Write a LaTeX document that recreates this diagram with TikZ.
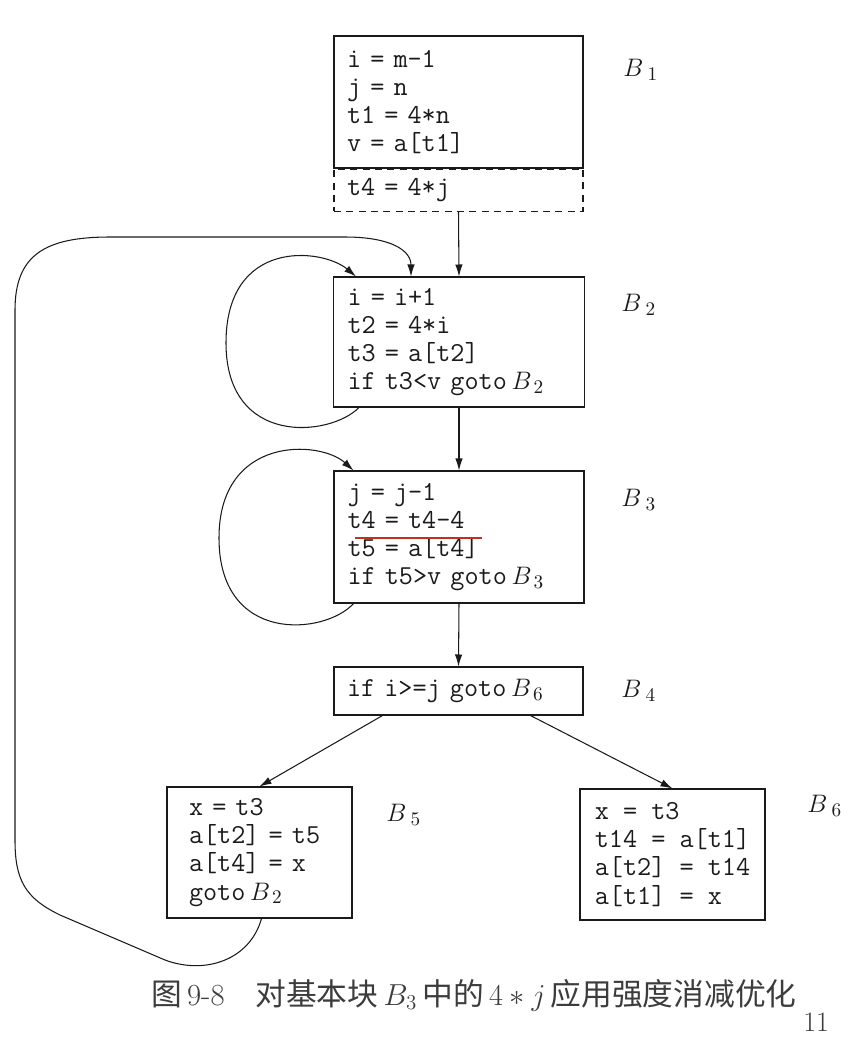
\documentclass[tikz,border=0pt]{standalone}
\usepackage{fontspec}
\usetikzlibrary{arrows.meta,positioning,calc}
\newfontfamily\cjk{Noto Sans CJK SC}
\definecolor{Ink}{HTML}{1A1A1A}
\definecolor{Mark}{HTML}{C0321E}

\begin{document}
\begin{tikzpicture}[x=0.02cm,y=-0.02cm,>={Latex[length=2.4mm,width=1.5mm]},
  blk/.style={draw=Ink,line width=0.6pt,inner xsep=0.26cm,inner ysep=0pt,text width=4.46cm,
    align=left,font=\ttfamily\fontsize{15.6}{16}\selectfont,text=Ink},
  sblk/.style={blk,inner xsep=0.44cm,text width=2.82cm,minimum height=2.62cm},
  lbl/.style={anchor=west,inner sep=0pt,font=\fontsize{15}{16}\selectfont,text=Ink},
  arr/.style={->,draw=Ink,line width=0.6pt}]
\useasboundingbox (0,0) rectangle (850,1046);
% blocks
\node[blk,minimum height=2.64cm] (b1) at (458.5,102) {i = m-1\\ j = n\\ t1 = 4*n\\ v = a[t1]};
\node[blk,dashed,dash pattern=on 4pt off 3pt,minimum height=0.84cm,below=0pt of b1] (t4box) {t4 = 4*j};
\node[blk,minimum width=5.02cm,minimum height=2.6cm] (b2) at (459,342) {i = i+1\\ t2 = 4*i\\ t3 = a[t2]\\ if t3<v goto\,$B_{\,2}$};
\node[blk,minimum width=5.0cm,minimum height=2.64cm] (b3) at (459,537) {j = j-1\\ t4 = t4-4\\ t5 = a[t4]\\ if t5>v goto\,$B_{\,3}$};
\node[blk,minimum height=0.96cm] (b4) at (458.5,691) {if i>=j goto\,$B_{\,6}$};
\node[sblk] (b5) at (259.5,852.5) {x = t3\\ a[t2] = t5\\ a[t4] = x\\ goto\,$B_{\,2}$};
\node[sblk,inner xsep=0pt,text width={},minimum width=3.7cm] (b6) at (672.5,854.5) {x = t3\\ t14 = a[t1]\\ a[t2] = t14\\ a[t1] = x};
% block names
\node[lbl] (n1) at (623,70) {$B_{\;1}$};
\node[lbl] (n2) at (621,305) {$B_{\;2}$};
\node[lbl] (n3) at (621,500) {$B_{\;3}$};
\node[lbl] (n4) at (621,691) {$B_{\;4}$};
\node[lbl] (n5) at (386,815) {$B_{\;5}$};
\node[lbl] (n6) at (807,806) {$B_{\;6}$};
% strength reduced statement
\draw[Mark,line width=1.3pt] (355,538) -- (482,538);
% flow
\draw[arr] (t4box.south) -- (b2.north);
\draw[arr] (b2.south) -- (b3.north);
\draw[arr] (b3.south) -- (b4.north);
\draw[arr] ($(b4.south west)+(49,0)$) -- (b5.north);
\draw[arr] ($(b4.south east)+(-53,0)$) -- (b6.north);
\draw[arr] ($(b2.south west)+(26,0)$) .. controls (330,437) and (226,447) .. (226,343)
  .. controls (226,238) and (322,248) .. ($(b2.north west)+(23,0)$);
\draw[arr] ($(b3.south west)+(20,0)$) .. controls (325,635) and (219,645) .. (219,538)
  .. controls (219,435) and (320,440) .. ($(b3.north west)+(20,0)$);
\draw[arr] ($(b5.south)+(2,0)$) .. controls (250,960) and (205,975) .. (165,960) -- (60,915)
  .. controls (25,898) and (15,880) .. (15,840) -- (15,310)
  .. controls (15,255) and (45,237) .. (110,237) -- (345,237)
  .. controls (390,237) and (411,250) .. ($(b2.north)+(-48,0)$);
% caption
\node[font=\fontsize{17.5}{19}\selectfont,text=Ink!85] (cap) at (474,995)
  {{\cjk 图}\,9-8\quad{\cjk 对基本块}\,$B_3$\,{\cjk 中的}\,$4*j$\,{\cjk 应用强度消减优化}};
\node[font=\fontsize{16}{18}\selectfont,text=Ink!85,anchor=west,inner sep=0pt] (pg) at (cap.east |- 0,1022) {11};
\end{tikzpicture}
\end{document}
